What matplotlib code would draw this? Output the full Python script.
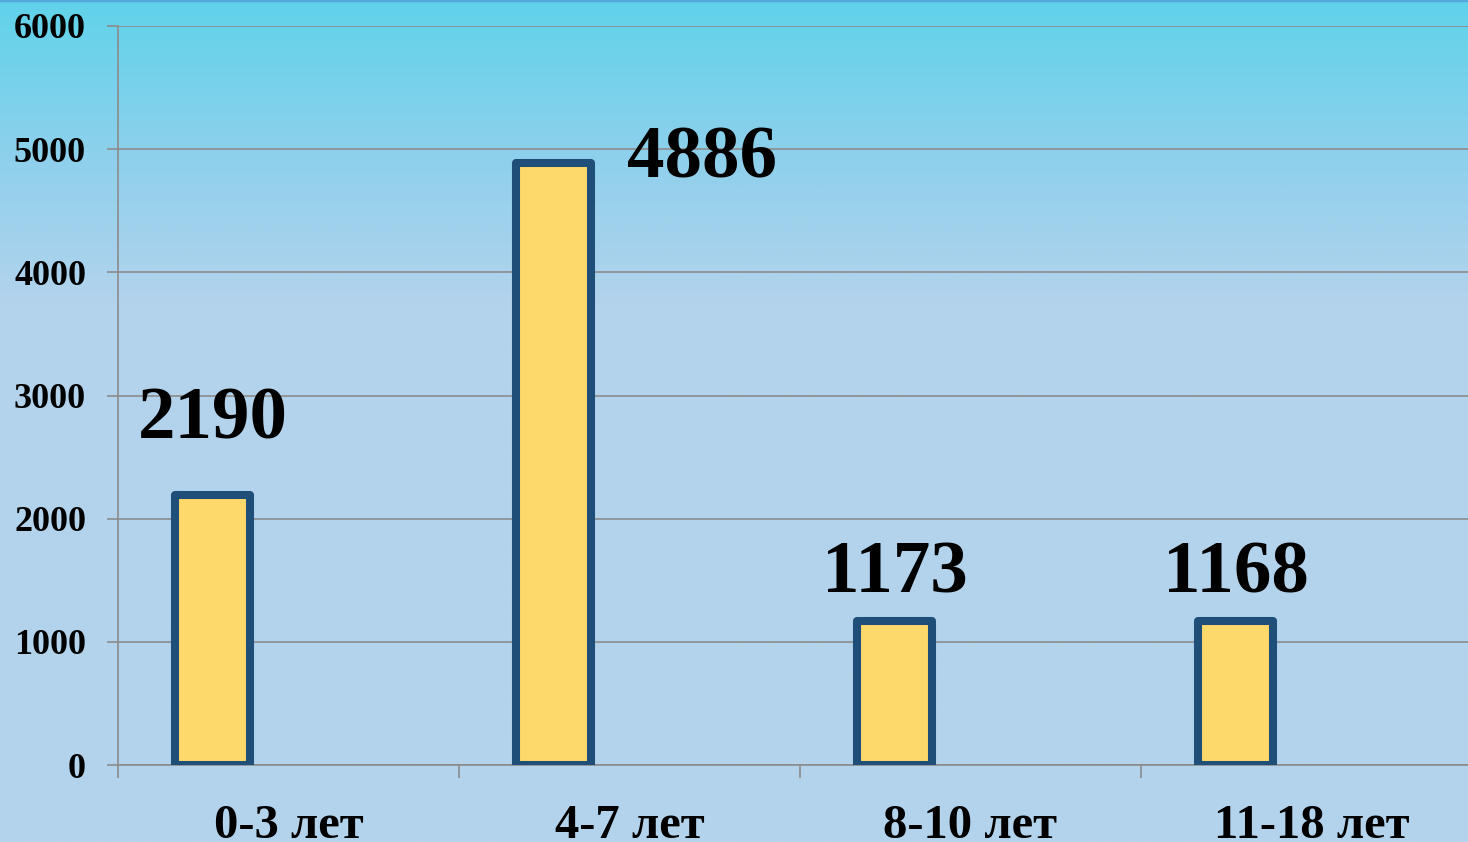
import numpy as np
import matplotlib
matplotlib.use('Agg')
from matplotlib import pyplot as plt
from matplotlib.colors import LinearSegmentedColormap

categories = ['0-3 лет', '4-7 лет', '8-10 лет', '11-18 лет']
values = [2190, 4886, 1173, 1168]
yticks = [0, 1000, 2000, 3000, 4000, 5000, 6000]

# label offsets (points) relative to the top of each bar
label_dx = [0, 107, 0, 0]
label_dy = [29, -22, 9, 9]

plt.rcParams['font.family'] = ['Liberation Serif', 'DejaVu Serif']
plt.rcParams['font.weight'] = 'bold'

fig = plt.figure(figsize=(14.68, 8.42), dpi=100)

# background gradient
bg = fig.add_axes([0, 0, 1, 1], zorder=-10)
cmap = LinearSegmentedColormap.from_list(
    'bg', [(0, '#5fd3ea'), (0.18, '#8dd0ec'), (0.36, '#b3d3ec'), (1, '#b4d3ec')])
grad = np.linspace(0, 1, 400).reshape(-1, 1)
bg.imshow(grad, aspect='auto', cmap=cmap, extent=[0, 1, 0, 1], origin='upper')
bg.axhline(1, color='#56a6de', lw=2.5)
bg.set_xlim(0, 1)
bg.set_ylim(0, 1)
bg.axis('off')

ax = fig.add_axes([118 / 1468, 77 / 842, 1364 / 1468, 739 / 842])
ax.patch.set_alpha(0)

x = np.arange(len(categories))
bars = ax.bar(x - 0.223, values, width=0.22, color='#fdd86a',
              edgecolor='#1f4e79', linewidth=5.8, zorder=3)
for b in bars:
    b.set_joinstyle('round')

for i, v in enumerate(values):
    ax.annotate(str(v), (x[i] - 0.223, v), xytext=(label_dx[i], label_dy[i]),
                textcoords='offset points', ha='center', va='bottom',
                fontsize=54, fontweight='bold', zorder=4)

ax.set_xlim(-0.5, 3.5)
ax.set_ylim(0, 6000)
ax.set_yticks(yticks)
ax.set_yticklabels([str(t) for t in yticks])
ax.grid(axis='y', color='#8c8c8c', lw=1.2, zorder=1)
ax.set_axisbelow(True)

ax.set_xticks(np.arange(-0.5, 3.0, 1.0))
ax.set_xticklabels([])
ax.set_xticks(x, minor=True)
ax.set_xticklabels(categories, minor=True)
ax.tick_params(axis='x', which='major', length=9, width=1.2, color='#8c8c8c')
ax.tick_params(axis='x', which='minor', length=0, pad=28, labelsize=35)
ax.tick_params(axis='y', length=8, width=1.2, color='#8c8c8c', pad=15, labelsize=26)

for s in ['top', 'right']:
    ax.spines[s].set_visible(False)
for s in ['left', 'bottom']:
    ax.spines[s].set_color('#8c8c8c')
    ax.spines[s].set_linewidth(1.2)

plt.savefig('out.png', dpi=100)
